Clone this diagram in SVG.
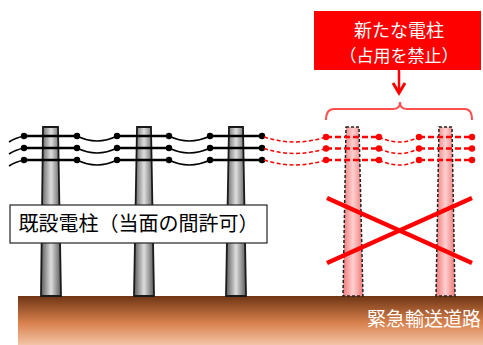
<svg xmlns="http://www.w3.org/2000/svg" width="483" height="345" viewBox="0 0 483 345">
<defs>
<linearGradient id="gp" x1="0" y1="0" x2="1" y2="0">
<stop offset="0" stop-color="#5a5a5a"/>
<stop offset="0.5" stop-color="#dedede"/>
<stop offset="1" stop-color="#5a5a5a"/>
</linearGradient>
<linearGradient id="gr" x1="0" y1="0" x2="1" y2="0">
<stop offset="0" stop-color="#f07878"/>
<stop offset="0.5" stop-color="#ffd0d0"/>
<stop offset="1" stop-color="#f07878"/>
</linearGradient>
<linearGradient id="gg" x1="0" y1="0" x2="0" y2="1">
<stop offset="0" stop-color="#6e3514"/>
<stop offset="0.55" stop-color="#d9814d"/>
<stop offset="1" stop-color="#f2c4a6"/>
</linearGradient>
<g id="bw">
<path class="bs" d="M24,0 H77 M117,0 H169 M210,0 H262"/>
<path class="bc" d="M9,6 Q15,2 24,0 M77,0 Q97,10 117,0 M169,0 Q189,10 210,0"/>
<circle cx="24" cy="0" r="3.2" fill="#000"/>
<circle cx="77" cy="0" r="3.2" fill="#000"/>
<circle cx="117" cy="0" r="3.2" fill="#000"/>
<circle cx="169" cy="0" r="3.2" fill="#000"/>
<circle cx="210" cy="0" r="3.2" fill="#000"/>
<circle cx="262" cy="0" r="3.2" fill="#000"/>
</g>
<g id="rw">
<path class="rc" d="M264,0 Q295,10 326,0 M379,0 Q399,10 419,0"/>
<path class="rs" d="M326,0 H379 M419,0 H472"/>
<circle cx="326" cy="0" r="3.2" fill="#ff0000"/>
<circle cx="379" cy="0" r="3.2" fill="#ff0000"/>
<circle cx="419" cy="0" r="3.2" fill="#ff0000"/>
<circle cx="472" cy="0" r="3.2" fill="#ff0000"/>
</g>
</defs>
<style>
.pole{fill:url(#gp);stroke:#1a1a1a;stroke-width:1.8}
.npole{fill:url(#gr);stroke:#222;stroke-width:1.5;stroke-dasharray:3,2}
.bs{fill:none;stroke:#000;stroke-width:2.6}
.bc{fill:none;stroke:#000;stroke-width:1.6}
.rs{fill:none;stroke:#ff0000;stroke-width:2.6;stroke-dasharray:6,3}
.rc{fill:none;stroke:#ff0000;stroke-width:1.5;stroke-dasharray:4,2.5}
.jp{font-family:"Noto Sans CJK JP","Noto Sans CJK SC",sans-serif}
</style>
<g id="ground">
<rect x="18" y="296" width="465" height="49" fill="url(#gg)"/>
<text class="jp" x="367" y="326" font-size="19" fill="#ffffff">緊急輸送道路</text>
</g>
<g id="pole1"><path class="pole" d="M43,127 H58 L61,296 H41 Z"/></g>
<g id="pole2"><path class="pole" d="M137,127 H151 L154,296 H134 Z"/></g>
<g id="pole3"><path class="pole" d="M229,127 H243 L246,296 H226 Z"/></g>
<g id="pole4"><path class="npole" d="M346,127 H359 L363,296 H343 Z"/></g>
<g id="pole5"><path class="npole" d="M439,127 H452 L455,296 H436 Z"/></g>
<g id="connectors">
<use href="#bw" y="136"/>
<use href="#bw" y="148"/>
<use href="#bw" y="160"/>
<use href="#rw" y="137"/>
<use href="#rw" y="148.5"/>
<use href="#rw" y="160"/>
<path d="M399,70 V92" stroke="#ff0000" stroke-width="2.5" fill="none"/>
<path d="M393,83 L399,93 L405,83" stroke="#ff0000" stroke-width="3" fill="none"/>
<path d="M326,120 Q326,109 334,109 H393 Q400,109 400,102 Q400,109 407,109 H465 Q472,109 472,120" stroke="#ff5050" stroke-width="2" fill="none"/>
</g>
<g id="cross">
<path d="M327,198 L472,263 M327,263 L472,198" stroke="#ff0000" stroke-width="4.5" fill="none"/>
</g>
<g id="label-existing">
<rect x="10" y="205" width="257" height="38" fill="#ffffff" stroke="#222" stroke-width="1.2"/>
<text class="jp" x="138.5" y="231" font-size="20" text-anchor="middle" fill="#000">既設電柱（当面の間許可）</text>
</g>
<g id="label-new">
<rect x="314" y="11" width="167" height="59" fill="#ff0000"/>
<text class="jp" x="399" y="37" font-size="18" text-anchor="middle" fill="#ffffff">新たな電柱</text>
<text class="jp" x="399" y="62" font-size="17" text-anchor="middle" fill="#ffffff">（占用を禁止）</text>
</g>
</svg>
